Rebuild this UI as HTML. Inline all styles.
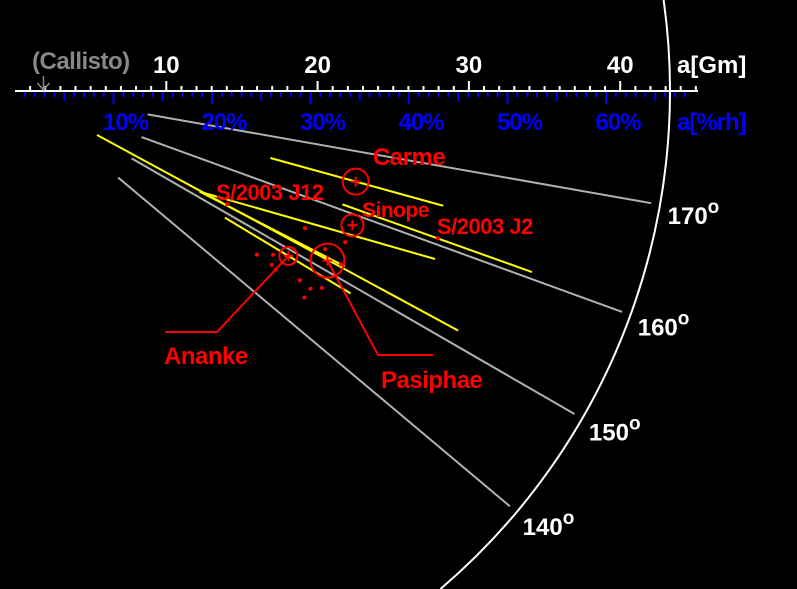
<!DOCTYPE html>
<html><head><meta charset="utf-8"><style>
html,body{margin:0;padding:0;background:#000;width:797px;height:589px;overflow:hidden}
svg{display:block;overflow:hidden}
text{font-family:"Liberation Sans",sans-serif;font-weight:bold}
</style></head><body>
<svg id="chart" width="797" height="589" viewBox="0 0 797 589" xmlns="http://www.w3.org/2000/svg">
<rect width="797" height="589" fill="#000"/>
<g id="g-grid"></g>
<g id="g-axis"></g>
<g id="g-orbits"></g>
<g id="g-moons"></g>
<g id="g-labels"></g>
</svg>
<script>
// ---- data ----
const gmTicks = [10, 20, 30, 40];
const pctTicks = [10, 20, 30, 40, 50, 60];
const inclTicks = [170, 160, 150, 140];
const callistoA = 1.88;
// orbit segments: inner radius (Gm), inner angle below horizon (deg), outer radius, outer angle
const orbR1 = [17.45, 22.9, 13.9, 6.15, 13.9, 16.2];
const orbA1 = [14.7, 19.1, 28.6, 28.2, 28.6, 31.1];
const orbR2 = [29.3, 36.2, 29.9, 33.3, 24.7, 25.9];
const orbA2 = [15.0, 19.3, 21.8, 28.4, 28.0, 31.1];
// main moons: name, semimajor axis (Gm), angle below horizon (deg), marker radius
const moonNames = ["Carme", "Sinope", "Ananke", "Pasiphae"];
const moonA = [23.3, 24.0, 21.1, 23.5];
const moonAng = [14.9, 21.7, 31.1, 28.5];
const moonSize = [13, 11, 9, 17];
// small moons: radius (Gm), angle (deg)
const smallR = [15.9, 29.6, 21.2, 24.0, 19.3, 20.2, 20.5, 20.9, 22.6, 23.5, 24.1, 23.5, 24.4, 23.0];
const smallAng = [28.1, 19.2, 25.3, 24.6, 34.1, 32.4, 34.1, 34.4, 33.6, 33.8, 32.7, 35.5, 28.0, 27.0];

// ---- scales ----
const OX = 15, OY = 91, PXG = 15.13, PXP = 9.85, RCIRC = 655, W = 797, H = 589;
const NS = "http://www.w3.org/2000/svg";
function pol(r, a) { const t = a * Math.PI / 180; return [OX + r * PXG * Math.cos(t), OY + r * PXG * Math.sin(t)]; }
function mk(tag, attrs, parent) { const e = document.createElementNS(NS, tag); for (const k in attrs) e.setAttribute(k, attrs[k]); parent.appendChild(e); return e; }
const gG = document.getElementById('g-grid'), gA = document.getElementById('g-axis'),
      gO = document.getElementById('g-orbits'), gM = document.getElementById('g-moons'), gL = document.getElementById('g-labels');

const topX = OX + Math.sqrt(RCIRC * RCIRC - OY * OY);
const botX = OX + Math.sqrt(RCIRC * RCIRC - (H - OY) * (H - OY));
let c = mk('path', {d: 'M' + topX + ' 0 A' + RCIRC + ' ' + RCIRC + ' 0 0 1 ' + botX + ' ' + H, fill: 'none', stroke: '#fff', 'stroke-width': 2}, gG);



inclTicks.forEach(function (d) {
  const a = 180 - d;
  const p1 = pol(8.9, a), p2 = pol(42.7, a);
  const l = mk('line', {x1: p1[0], y1: p1[1], x2: p2[0], y2: p2[1], stroke: '#b0b0b0', 'stroke-width': 2}, gG);
  
  
  const pl = pol(43.8, a);
  const t = mk('text', {x: pl[0], y: pl[1] + 18, fill: '#fff', 'font-size': 24}, gG);
  
  
  t.textContent = d;
  const s = mk('tspan', {dy: -11, 'font-size': 19}, t);
  s.textContent = 'o';
});

let ax = mk('line', {x1: OX, y1: OY, x2: 698, y2: OY, stroke: '#fff', 'stroke-width': 2}, gA);


for (let i = 1; i <= 45; i++) {
  const x = OX + i * PXG, h = i % 10 === 0 ? 10 : 5;
  const t = mk('line', {x1: x, y1: OY, x2: x, y2: OY - h, stroke: '#fff', 'stroke-width': 2}, gA);
  
  
}
for (let i = 1; i <= 68; i++) {
  const x = OX + i * PXP, h = i % 10 === 0 ? 12 : (i % 5 === 0 ? 9 : 5);
  const t = mk('line', {x1: x, y1: OY + 1, x2: x, y2: OY + 1 + h, stroke: '#0000ff', 'stroke-width': 2}, gA);
  
  
}
gmTicks.forEach(function (v) {
  const t = mk('text', {x: OX + v * PXG, y: 73, fill: '#fff', 'font-size': 24, 'text-anchor': 'middle'}, gA);
  
  
  t.textContent = v;
});
pctTicks.forEach(function (v) {
  const t = mk('text', {x: OX + v * PXP + 12, y: 130, fill: '#0000ff', 'font-size': 24, 'text-anchor': 'middle', 'letter-spacing': -1}, gA);
  
  
  t.textContent = v + '%';
});
let tg = mk('text', {x: 677, y: 73, fill: '#fff', 'font-size': 24}, gA);


tg.textContent = 'a[Gm]';
let tp = mk('text', {x: 677, y: 130, fill: '#0000ff', 'font-size': 24, 'letter-spacing': -1}, gA);


tp.textContent = 'a[%rh]';
const cx = OX + callistoA * PXG;
let cl = mk('path', {d: 'M' + cx + ' 76 V90 M' + (cx - 6) + ' 83 L' + cx + ' 90 L' + (cx + 6) + ' 83', stroke: '#888', 'stroke-width': 1.5, fill: 'none'}, gA);


let ct = mk('text', {x: 32, y: 69, fill: '#888', 'font-size': 24, 'letter-spacing': -0.5}, gA);


ct.textContent = '(Callisto)';

for (let i = 0; i < orbR1.length; i++) {
  const p1 = pol(orbR1[i], orbA1[i]), p2 = pol(orbR2[i], orbA2[i]);
  const l = mk('line', {x1: p1[0], y1: p1[1], x2: p2[0], y2: p2[1], stroke: '#ffff00', 'stroke-width': 2}, gO);
  
  
}

for (let i = 0; i < smallR.length; i++) {
  const p = pol(smallR[i], smallAng[i]);
  const d = mk('circle', {cx: p[0], cy: p[1], r: 2, fill: '#ff0000'}, gM);
  
  
}
const leaders = {Ananke: [[217, 332], [165, 332]], Pasiphae: [[378, 355], [433, 355]]};
for (let i = 0; i < moonNames.length; i++) {
  const p = pol(moonA[i], moonAng[i]);
  const g = mk('g', {}, gM);
  
  
  mk('circle', {cx: p[0], cy: p[1], r: moonSize[i], fill: 'none', stroke: '#ff0000', 'stroke-width': 2}, g);
  mk('path', {d: 'M' + (p[0] - 5) + ' ' + p[1] + ' h10 M' + p[0] + ' ' + (p[1] - 5) + ' v10', stroke: '#ff0000', 'stroke-width': 2}, g);
  const L = leaders[moonNames[i]];
  if (L) {
    mk('polyline', {points: p[0] + ',' + p[1] + ' ' + L[0].join(',') + ' ' + L[1].join(','), fill: 'none', stroke: '#ff0000', 'stroke-width': 2}, g);
  }
}
const labTxt = ["Carme", "Sinope", "S/2003 J2", "S/2003 J12", "Ananke", "Pasiphae"];
const labX = [373, 362, 437, 216, 164, 381];
const labY = [165, 217, 234, 200, 364, 388];
const labSize = [24, 21, 22, 22, 24, 24];
for (let i = 0; i < labTxt.length; i++) {
  const t = mk('text', {x: labX[i], y: labY[i], fill: '#ff0000', 'font-size': labSize[i], 'letter-spacing': -0.5}, gL);
  
  
  t.textContent = labTxt[i];
}
</script>
</body></html>
